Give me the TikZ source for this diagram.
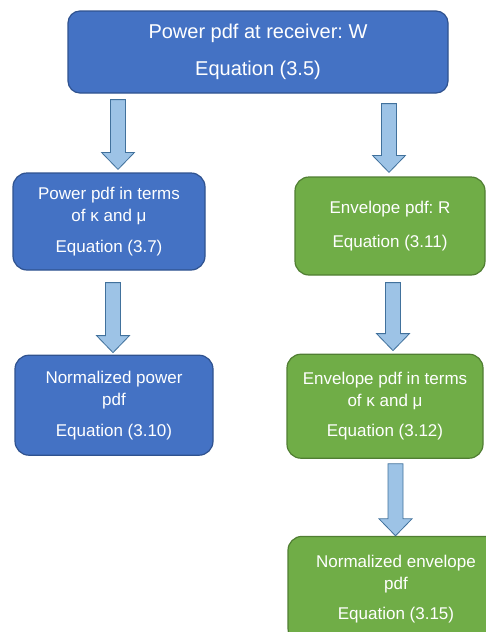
\documentclass[tikz,border=0pt]{standalone}
\usepackage{fontspec}
\setmainfont{Liberation Sans}
\usepackage{xcolor}
\usepackage{tikz}
\usetikzlibrary{positioning,calc}
\frenchspacing

\definecolor{boxblue}{HTML}{4472C4}
\definecolor{edgeblue}{HTML}{2F528F}
\definecolor{boxgreen}{HTML}{70AD47}
\definecolor{edgegreen}{HTML}{507E32}
\definecolor{arrowfill}{HTML}{9DC3E6}
\definecolor{arrowedge}{HTML}{41719C}

\begin{document}
\begin{tikzpicture}[
    x=1pt, y=1pt,
    stage/.style={rectangle, rounded corners=14pt, line width=1.2pt, text=white, align=center, inner sep=4pt, font=\fontsize{17}{22}\selectfont},
    bluestage/.style={stage, fill=boxblue, draw=edgeblue},
    greenstage/.style={stage, fill=boxgreen, draw=edgegreen},
    blockarrow/.style={draw=arrowedge, fill=arrowfill, line width=0.8pt,
        to path={let \p1=(\tikztostart), \p2=(\tikztotarget) in
            (\x1-7.5pt,\y1) -- (\x1-7.5pt,\y2+17pt) -- (\x1-16.5pt,\y2+17pt) -- (\x1,\y2)
            -- (\x1+16.5pt,\y2+17pt) -- (\x1+7.5pt,\y2+17pt) -- (\x1+7.5pt,\y1) -- cycle}}
]
    \useasboundingbox (0,0) rectangle (486,-632);

    % Nodes
    \node[bluestage, minimum width=380pt, minimum height=82pt, rounded corners=12pt, font=\fontsize{20}{24}\selectfont] (receiver) at (258,-52) {Power pdf at receiver: W\\[13pt]Equation (3.5)};

    \node[bluestage, minimum width=192pt, minimum height=97pt] (powkm) at (109,-221.5) {Power pdf in terms\\of κ and μ\\[9pt]Equation (3.7)};
    \node[bluestage, minimum width=198pt, minimum height=100pt, below=84pt of powkm, xshift=5pt] (normpow) {Normalized power\\pdf\\[9pt]Equation (3.10)};

    \node[greenstage, minimum width=190pt, minimum height=98pt] (envelope) at (390,-226) {Envelope pdf: R\\[12pt]Equation (3.11)};
    \node[greenstage, minimum width=196pt, minimum height=104pt, below=78pt of envelope, xshift=-5pt] (envkm) {Envelope pdf in terms\\of κ and μ\\[8pt]Equation (3.12)};
    \node[greenstage, minimum width=216pt, minimum height=106pt, below=77pt of envkm, xshift=11pt] (normenv) {Normalized envelope\\pdf\\[8pt]Equation (3.15)};

    % Arrows
    \draw[blockarrow] ([xshift=-140pt, yshift=-6pt]receiver.south) to ([yshift=3pt]powkm.north);
    \draw[blockarrow] ([xshift=131pt, yshift=-10pt]receiver.south) to ([yshift=4pt]envelope.north);
    \draw[blockarrow] ([xshift=4pt, yshift=-12pt]powkm.south) to ([yshift=2pt]normpow.north);
    \draw[blockarrow] ([xshift=3pt, yshift=-7pt]envelope.south) to ([yshift=3pt]envkm.north);
    \draw[blockarrow] ([xshift=10.5pt, yshift=-5pt]envkm.south) to (normenv.north);
\end{tikzpicture}
\end{document}
